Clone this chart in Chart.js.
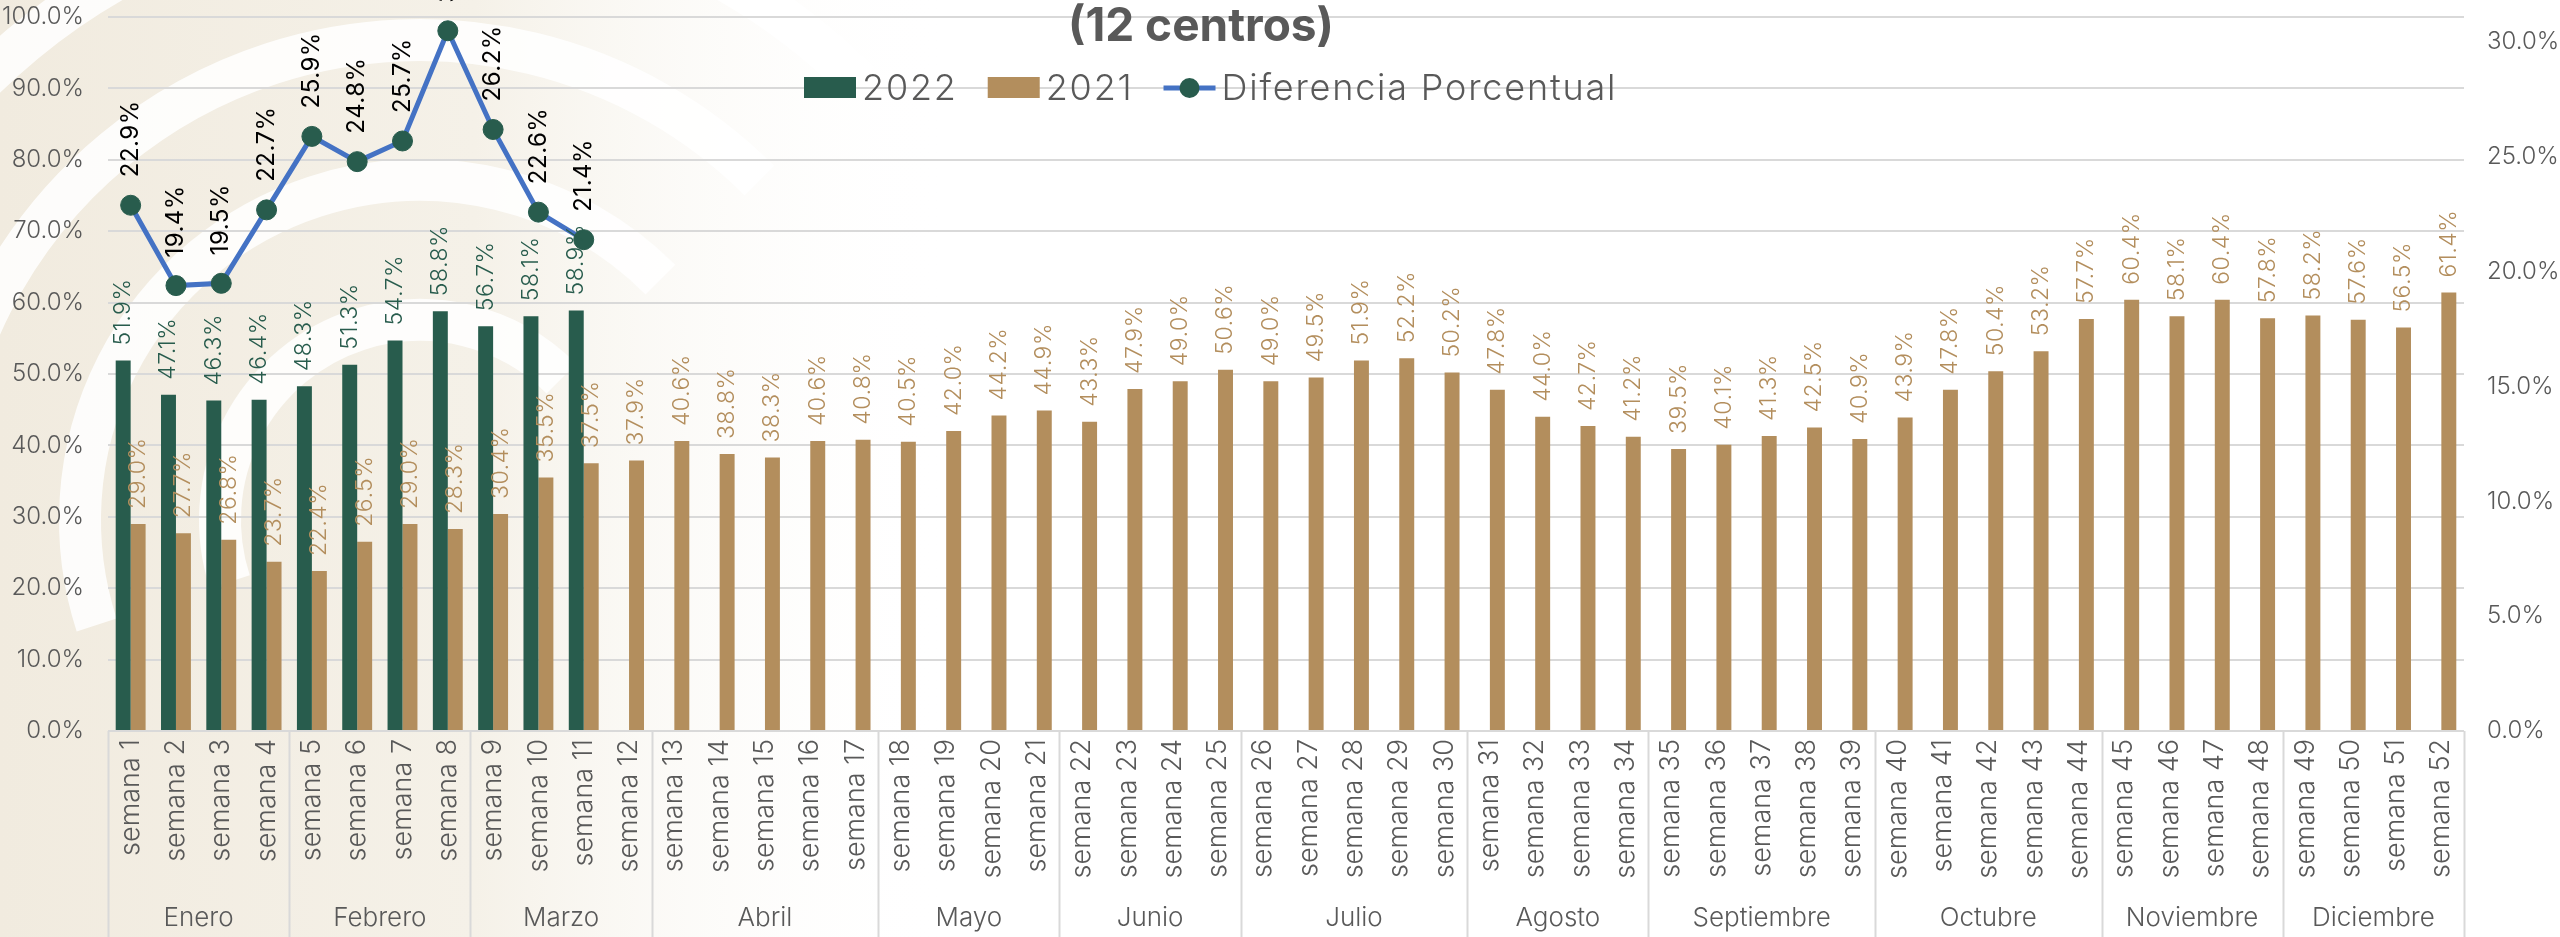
<!DOCTYPE html>
<html lang="es">
<head>
<meta charset="utf-8">
<title>Ocupación semanal (12 centros)</title>
<script src="https://cdn.jsdelivr.net/npm/chart.js@4.4.1/dist/chart.umd.min.js"></script>
<style>
  html, body { margin: 0; padding: 0; background: #fff; }
  #wrap { width: 2560px; height: 937px; }
</style>
</head>
<body>
<div id="wrap"><canvas id="chart" width="2560" height="937"></canvas></div>
<script>
const weeks = [
  'semana 1', 'semana 2', 'semana 3', 'semana 4', 'semana 5', 'semana 6', 'semana 7', 'semana 8',
  'semana 9', 'semana 10', 'semana 11', 'semana 12', 'semana 13', 'semana 14', 'semana 15', 'semana 16',
  'semana 17', 'semana 18', 'semana 19', 'semana 20', 'semana 21', 'semana 22', 'semana 23', 'semana 24',
  'semana 25', 'semana 26', 'semana 27', 'semana 28', 'semana 29', 'semana 30', 'semana 31', 'semana 32',
  'semana 33', 'semana 34', 'semana 35', 'semana 36', 'semana 37', 'semana 38', 'semana 39', 'semana 40',
  'semana 41', 'semana 42', 'semana 43', 'semana 44', 'semana 45', 'semana 46', 'semana 47', 'semana 48',
  'semana 49', 'semana 50', 'semana 51', 'semana 52'
];
const months = ['Enero', 'Febrero', 'Marzo', 'Abril', 'Mayo', 'Junio', 'Julio', 'Agosto',
  'Septiembre', 'Octubre', 'Noviembre', 'Diciembre'];
const monthWeeks = [4, 4, 4, 5, 4, 4, 5, 4, 5, 5, 4, 4];

const values2022 = [51.9, 47.1, 46.3, 46.4, 48.3, 51.3, 54.7, 58.8, 56.7, 58.1, 58.9];
const values2021 = [
  29.0, 27.7, 26.8, 23.7, 22.4, 26.5, 29.0, 28.3, 30.4, 35.5, 37.5, 37.9,
  40.6, 38.8, 38.3, 40.6, 40.8, 40.5, 42.0, 44.2, 44.9, 43.3, 47.9, 49.0,
  50.6, 49.0, 49.5, 51.9, 52.2, 50.2, 47.8, 44.0, 42.7, 41.2, 39.5, 40.1,
  41.3, 42.5, 40.9, 43.9, 47.8, 50.4, 53.2, 57.7, 60.4, 58.1, 60.4, 57.8,
  58.2, 57.6, 56.5, 61.4
];
const diffPct = [22.9, 19.4, 19.5, 22.7, 25.9, 24.8, 25.7, 30.5, 26.2, 22.6, 21.4];

const leftTicks = [0, 10, 20, 30, 40, 50, 60, 70, 80, 90, 100];
const rightTicks = [0, 5, 10, 15, 20, 25, 30];

const GREEN = '#285c4d';
const GOLD = '#b38e5d';
const BLUE = '#4472c4';
const GREY = '#595959';
const GRID = '#d9d9d9';
const FONT = "Inter, 'Open Sans', sans-serif";

// month start index and centre, for the second category level
const monthStart = [];
const monthCentre = [];
let acc = 0;
monthWeeks.forEach(n => {
  monthStart.push(acc);
  monthCentre.push(acc + (n - 1) / 2);
  acc += n;
});

const pct = v => v.toFixed(1) + '%';

// beige decorative background on the left
const backdrop = {
  id: 'backdrop',
  beforeDraw(chart) {
    const { ctx, width, height } = chart;
    ctx.save();
    ctx.fillStyle = '#ffffff';
    ctx.fillRect(0, 0, width, height);
    const g = ctx.createLinearGradient(0, 0, 950, 0);
    g.addColorStop(0, '#f1ebdf');
    g.addColorStop(0.5, '#f5f1e8');
    g.addColorStop(1, 'rgba(255,255,255,0)');
    ctx.fillStyle = g;
    ctx.fillRect(0, 0, 950, height);
    ctx.strokeStyle = 'rgba(255,255,255,0.85)';
    ctx.lineWidth = 42;
    [[420, 520, 200], [420, 520, 340], [420, 520, 480], [420, 520, 620]].forEach(([cx, cy, r]) => {
      ctx.beginPath();
      ctx.arc(cx, cy, r, Math.PI * 0.9, Math.PI * 1.75);
      ctx.stroke();
    });
    ctx.restore();
  }
};

// vertical separators between months, below the plot
const monthLines = {
  id: 'monthLines',
  afterDraw(chart) {
    const { ctx, chartArea } = chart;
    const xs = chart.scales.x;
    ctx.save();
    ctx.strokeStyle = GRID;
    ctx.lineWidth = 2;
    const bounds = monthStart.concat([weeks.length]);
    bounds.forEach(b => {
      const px = Math.round(xs.getPixelForValue(b - 0.5)) + 0.5;
      ctx.beginPath();
      ctx.moveTo(px, chartArea.bottom);
      ctx.lineTo(px, chart.height);
      ctx.stroke();
    });
    ctx.restore();
  }
};

// rotated value labels above bars and points
const valueLabels = {
  id: 'valueLabels',
  afterDatasetsDraw(chart) {
    const { ctx } = chart;
    chart.data.datasets.forEach((ds, i) => {
      const meta = chart.getDatasetMeta(i);
      const isLine = ds.type === 'line';
      ctx.save();
      ctx.fillStyle = isLine ? '#000000' : ds.backgroundColor;
      ctx.font = (isLine ? '400 24px ' : '300 23px ') + FONT;
      ctx.letterSpacing = isLine ? '0.5px' : '0.5px';
      ctx.textAlign = 'left';
      ctx.textBaseline = 'middle';
      meta.data.forEach((el, j) => {
        const v = ds.data[j];
        if (v === null || v === undefined) return;
        ctx.save();
        ctx.translate(el.x, el.y - (isLine ? 28 : 15));
        ctx.rotate(-Math.PI / 2);
        ctx.fillText(pct(v), 0, 0);
        ctx.restore();
      });
      ctx.restore();
    });
  }
};

// title and legend sit on top of the plot, as in the original
const header = {
  id: 'header',
  afterDraw(chart) {
    const { ctx } = chart;
    ctx.save();
    ctx.fillStyle = GREY;
    ctx.font = '700 46px ' + FONT;
    ctx.textAlign = 'center';
    ctx.textBaseline = 'middle';
    ctx.fillText('(12 centros)', 1201, 27);

    ctx.font = '300 36px ' + FONT;
    ctx.letterSpacing = '1.8px';
    ctx.textAlign = 'left';
    let x = 804;
    const y = 88;
    chart.data.datasets.forEach(ds => {
      if (ds.type === 'line') {
        ctx.strokeStyle = ds.borderColor;
        ctx.lineWidth = 5;
        ctx.beginPath();
        ctx.moveTo(x, y);
        ctx.lineTo(x + 52, y);
        ctx.stroke();
        ctx.fillStyle = ds.pointBackgroundColor;
        ctx.beginPath();
        ctx.arc(x + 26, y, 10, 0, Math.PI * 2);
        ctx.fill();
      } else {
        ctx.fillStyle = ds.backgroundColor;
        ctx.fillRect(x, y - 11, 52, 21);
      }
      ctx.fillStyle = GREY;
      ctx.fillText(ds.label, x + 58, y + 1);
      x += 58 + ctx.measureText(ds.label).width + 30;
    });
    ctx.restore();
  }
};

// keep the plot top where the layout padding puts it
const noVPad = s => { s.paddingTop = 0; s.paddingBottom = 0; };

Chart.defaults.font.family = FONT;
Chart.defaults.color = GREY;

new Chart(document.getElementById('chart'), {
  data: {
    labels: weeks,
    datasets: [
      {
        type: 'bar', label: '2022', data: values2022, backgroundColor: GREEN,
        yAxisID: 'y', order: 2, categoryPercentage: 0.66, barPercentage: 1.0
      },
      {
        type: 'bar', label: '2021', data: values2021, backgroundColor: GOLD,
        yAxisID: 'y', order: 3, categoryPercentage: 0.66, barPercentage: 1.0
      },
      {
        type: 'line', label: 'Diferencia Porcentual', data: diffPct, yAxisID: 'y2', order: 1,
        borderColor: BLUE, borderWidth: 5, tension: 0,
        pointRadius: 10, pointBackgroundColor: GREEN, pointBorderColor: GREEN, pointBorderWidth: 1
      }
    ]
  },
  options: {
    responsive: false,
    animation: false,
    devicePixelRatio: 1,
    layout: { padding: { top: 17, left: 0, right: 0, bottom: 0 } },
    plugins: { legend: { display: false }, title: { display: false }, tooltip: { enabled: false } },
    scales: {
      x: {
        type: 'category',
        offset: true,
        grid: { display: false, drawTicks: false },
        border: { display: false },
        ticks: {
          autoSkip: false, minRotation: 90, maxRotation: 90, padding: 8,
          color: GREY, font: { size: 27, weight: '300' }
        },
        afterFit: s => { s.height = 160; }
      },
      months: {
        type: 'linear',
        position: 'bottom',
        min: -0.5,
        max: weeks.length - 0.5,
        grid: { display: false, drawTicks: false },
        border: { display: false },
        afterBuildTicks: s => { s.ticks = monthCentre.map(v => ({ value: v })); },
        ticks: {
          autoSkip: false, minRotation: 0, maxRotation: 0, padding: 12,
          color: GREY, font: { size: 26, weight: '300' },
          callback: (v, i) => months[i]
        },
        afterFit: s => { s.height = 46; }
      },
      y: {
        position: 'left',
        min: 0,
        max: 100,
        grid: { color: GRID, lineWidth: 2, drawTicks: false },
        border: { display: false },
        afterBuildTicks: s => { s.ticks = leftTicks.map(v => ({ value: v })); },
        ticks: { padding: 24, color: GREY, font: { size: 24, weight: '300' }, callback: v => pct(v) },
        afterFit: s => { s.width = 108; noVPad(s); }
      },
      y2: {
        position: 'right',
        min: 0,
        max: 31.1,
        grid: { drawOnChartArea: false, drawTicks: false },
        border: { display: false },
        afterBuildTicks: s => { s.ticks = rightTicks.map(v => ({ value: v })); },
        ticks: { padding: 23, color: GREY, font: { size: 24, weight: '300' }, callback: v => pct(v) },
        afterFit: s => { s.width = 96; noVPad(s); }
      }
    }
  },
  plugins: [backdrop, monthLines, valueLabels, header]
});
</script>
</body>
</html>
